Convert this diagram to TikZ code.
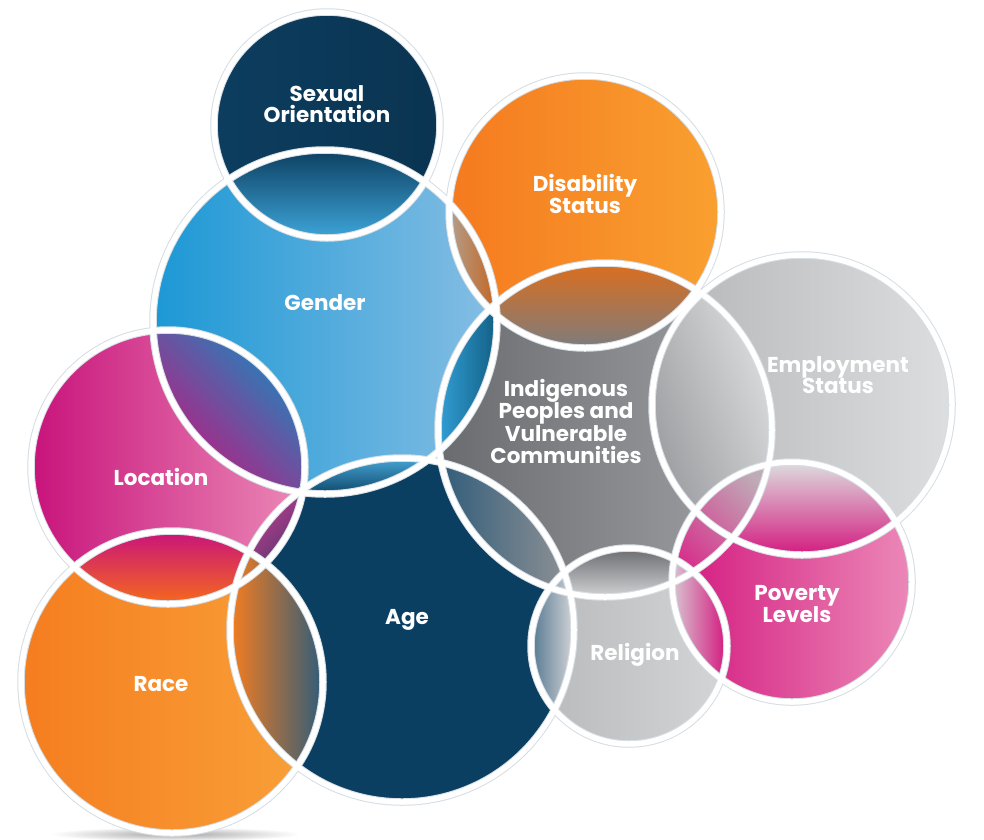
\documentclass[tikz,border=0pt]{standalone}
\usepackage{fontspec}
\setmainfont{Poppins}
\usetikzlibrary{calc}
\definecolor{navySO}{HTML}{0C3D5F}
\definecolor{navyAG}{HTML}{0B3F62}
\definecolor{geL}{HTML}{1C98D5}
\definecolor{geR}{HTML}{86BEE4}
\definecolor{diL}{HTML}{F57A1F}
\definecolor{diR}{HTML}{F9A030}
\definecolor{inL}{HTML}{6A6B6F}
\definecolor{inR}{HTML}{A3A4A7}
\definecolor{emL}{HTML}{B4B5B7}
\definecolor{emR}{HTML}{DDDEDF}
\definecolor{loL}{HTML}{C8137B}
\definecolor{loR}{HTML}{EB8AB7}
\definecolor{raL}{HTML}{F57D1F}
\definecolor{raR}{HTML}{F9A23A}
\definecolor{reL}{HTML}{B8B9BB}
\definecolor{reR}{HTML}{D4D5D7}
\definecolor{poL}{HTML}{D3187E}
\definecolor{poR}{HTML}{EC89B8}
\definecolor{ringedge}{HTML}{D5DEE4}
\def\rSOc{113pt}
\def\rGEc{172pt}
\def\rDIc{136pt}
\def\rINc{167pt}
\def\rEMc{150pt}
\def\rLOc{137pt}
\def\rAGc{172pt}
\def\rRAc{151pt}
\def\rREc{98pt}
\def\rPOc{120pt}
\tikzset{
  lbl/.style={text=white, font=\bfseries\fontsize{21.5}{21.5}\selectfont, align=center, inner sep=0pt},
  ringunder/.style={line width=7.5pt, draw=ringedge},
  ringtop/.style={line width=5.5pt, draw=white},
}
\begin{document}
\begin{tikzpicture}[x=1pt,y=-1pt]
\useasboundingbox (0,0) rectangle (984,839);
\fill[white] (0,0) rectangle (984,839);
% centres
\coordinate (cSO) at (327,125);
\coordinate (cGE) at (325,322);
\coordinate (cDI) at (585,212);
\coordinate (cIN) at (605,430);
\coordinate (cEM) at (802,405);
\coordinate (cLO) at (168,467);
\coordinate (cAG) at (402,630);
\coordinate (cRA) at (172,682);
\coordinate (cRE) at (629,646);
\coordinate (cPO) at (792,582);
% shadow under Race
\shade[inner color=black!35, outer color=white] (175,834) ellipse[x radius=125pt, y radius=7pt];
% circle bodies
\shade[left color=navySO, right color=navySO!85!black] (cSO) circle[radius=\rSOc];
\shade[left color=diL, right color=diR] (cDI) circle[radius=\rDIc];
\shade[left color=geL, right color=geR] (cGE) circle[radius=\rGEc];
\shade[left color=emL, right color=emR] (cEM) circle[radius=\rEMc];
\shade[left color=inL, right color=inR] (cIN) circle[radius=\rINc];
\shade[left color=loL, right color=loR] (cLO) circle[radius=\rLOc];
\shade[left color=navyAG, right color=navyAG] (cAG) circle[radius=\rAGc];
\shade[left color=raL, right color=raR] (cRA) circle[radius=\rRAc];
\shade[left color=reL, right color=reR] (cRE) circle[radius=\rREc];
\shade[left color=poL, right color=poR] (cPO) circle[radius=\rPOc];
% lenses
\begin{scope}\clip (cSO) circle[radius=\rSOc]; \clip (cGE) circle[radius=\rGEc];
\shade[top color=navySO, bottom color=geL!85!white] (225,148) rectangle (430,240);\end{scope}
\begin{scope}\clip (cGE) circle[radius=\rGEc]; \clip (cDI) circle[radius=\rDIc];
\shade[left color=geR!60!diL, right color=diL!80!black] (445,200) rectangle (500,318);\end{scope}
\begin{scope}\clip (cGE) circle[radius=\rGEc]; \clip (cIN) circle[radius=\rINc];
\shade[left color=geL!90!white, right color=geL!60!black] (435,300) rectangle (500,455);\end{scope}
\begin{scope}\clip (cGE) circle[radius=\rGEc]; \clip (cLO) circle[radius=\rLOc];
\shade[top color=loL, bottom color=geL!90!black, shading angle=135] (150,328) rectangle (310,497);\end{scope}
\begin{scope}\clip (cGE) circle[radius=\rGEc]; \clip (cAG) circle[radius=\rAGc];
\shade[top color=geL!80!white, bottom color=navyAG] (298,455) rectangle (430,497);\end{scope}
\begin{scope}\clip (cDI) circle[radius=\rDIc]; \clip (cIN) circle[radius=\rINc];
\shade[top color=diL!90!black, bottom color=inL!70!inR] (489,262) rectangle (697,350);\end{scope}
\begin{scope}\clip (cIN) circle[radius=\rINc]; \clip (cEM) circle[radius=\rEMc];
\shade[left color=inR!80!inL, right color=emR, shading angle=110] (650,292) rectangle (773,540);\end{scope}
\begin{scope}\clip (cIN) circle[radius=\rINc]; \clip (cAG) circle[radius=\rAGc];
\shade[left color=navyAG!85!white, right color=inR!90!black] (438,460) rectangle (575,597);\end{scope}
\begin{scope}\clip (cIN) circle[radius=\rINc]; \clip (cRE) circle[radius=\rREc];
\shade[top color=inL, bottom color=reR] (550,548) rectangle (694,598);\end{scope}
\begin{scope}\clip (cEM) circle[radius=\rEMc]; \clip (cPO) circle[radius=\rPOc];
\shade[top color=emR, bottom color=poL] (672,462) rectangle (912,556);\end{scope}
\begin{scope}\clip (cIN) circle[radius=\rINc]; \clip (cPO) circle[radius=\rPOc];
\shade[top color=emL!80!poR, bottom color=poL!90!white, shading angle=-45] (672,462) rectangle (772,585);\end{scope}
\begin{scope}\clip (cLO) circle[radius=\rLOc]; \clip (cRA) circle[radius=\rRAc];
\shade[top color=loL, bottom color=raL!85!red] (72,531) rectangle (264,605);\end{scope}
\begin{scope}\clip (cLO) circle[radius=\rLOc]; \clip (cAG) circle[radius=\rAGc];
\shade[top color=loL!80!white, bottom color=navyAG!70!loL, shading angle=45] (230,487) rectangle (306,590);\end{scope}
\begin{scope}\clip (cRA) circle[radius=\rRAc]; \clip (cAG) circle[radius=\rAGc];
\shade[left color=raL, right color=navyAG!85!white] (230,550) rectangle (323,768);\end{scope}
\begin{scope}\clip (cAG) circle[radius=\rAGc]; \clip (cRE) circle[radius=\rREc];
\shade[left color=navyAG!70!white, right color=reR] (531,570) rectangle (574,712);\end{scope}
\begin{scope}\clip (cRE) circle[radius=\rREc]; \clip (cPO) circle[radius=\rPOc];
\shade[left color=reR!80!poR, right color=poL] (672,557) rectangle (727,681);\end{scope}
% rings
\foreach \c/\r in {cSO/\rSOc, cGE/\rGEc, cDI/\rDIc, cIN/\rINc, cEM/\rEMc, cLO/\rLOc, cAG/\rAGc, cRA/\rRAc, cRE/\rREc, cPO/\rPOc}
  \draw[ringunder] (\c) circle[radius=\r];
\foreach \c/\r in {cSO/\rSOc, cGE/\rGEc, cDI/\rDIc, cIN/\rINc, cEM/\rEMc, cLO/\rLOc, cAG/\rAGc, cRA/\rRAc, cRE/\rREc, cPO/\rPOc}
  \draw[ringtop] (\c) circle[radius=\r];
% labels
\node[lbl] (tSO) at (327,104) {Sexual\\Orientation};
\node[lbl] (tGE) at (325,303) {Gender};
\node[lbl] (tDI) at (585,194) {Disability\\Status};
\node[lbl] (tIN) at (566,421) {Indigenous\\Peoples and\\Vulnerable\\Communities};
\node[lbl] (tEM) at (838,375) {Employment\\Status};
\node[lbl] (tLO) at (161,477) {Location};
\node[lbl] (tRA) at (161,684) {Race};
\node[lbl] (tAG) at (407,620) {Age};
\node[lbl] (tRE) at (635,655) {Religion};
\node[lbl] (tPO) at (797,604) {Poverty\\Levels};
\end{tikzpicture}
\end{document}
